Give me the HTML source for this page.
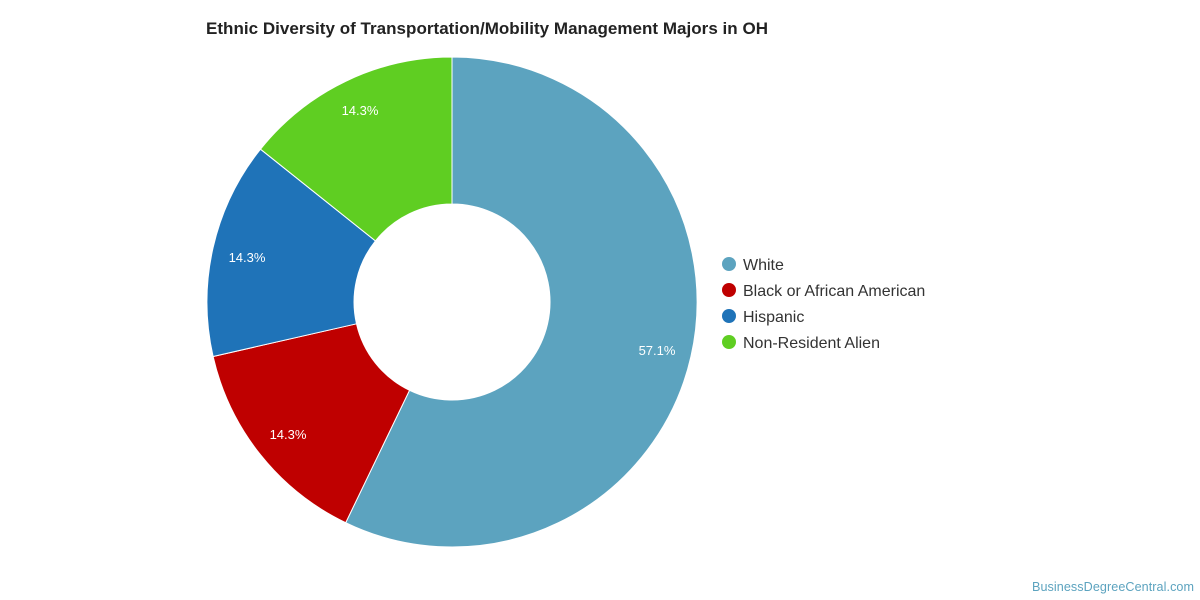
<!DOCTYPE html>
<html><head><meta charset="utf-8"><style>
body{margin:0;background:#fff;}
svg{display:block;font-family:"Liberation Sans",Arial,sans-serif;}
</style></head><body>
<svg width="1200" height="600" viewBox="0 0 1200 600">
<text x="206" y="34" font-size="17" font-weight="bold" fill="#222" textLength="562">Ethnic Diversity of Transportation/Mobility Management Majors in OH</text>
<g stroke="#fff" stroke-width="1">
<path d="M452,57 A245,245 0 1 1 345.7,522.7 L409.5,390.3 A98,98 0 1 0 452,204 Z" fill="#5ca3bf"/>
<path d="M345.7,522.7 A245,245 0 0 1 213.1,356.5 L356.5,323.8 A98,98 0 0 0 409.5,390.3 Z" fill="#bf0000"/>
<path d="M213.1,356.5 A245,245 0 0 1 260.5,149.2 L375.4,240.9 A98,98 0 0 0 356.5,323.8 Z" fill="#1f73b8"/>
<path d="M260.5,149.2 A245,245 0 0 1 452,57 L452,204 A98,98 0 0 0 375.4,240.9 Z" fill="#5fce22"/>
</g>
<g font-size="13" fill="#fff" text-anchor="middle">
<text x="657" y="355">57.1%</text>
<text x="288" y="439">14.3%</text>
<text x="247" y="262">14.3%</text>
<text x="360" y="115">14.3%</text>
</g>
<g font-size="16" fill="#333">
<circle cx="729" cy="264" r="7" fill="#5ca3bf"/><text x="743" y="270">White</text>
<circle cx="729" cy="290" r="7" fill="#bf0000"/><text x="743" y="296">Black or African American</text>
<circle cx="729" cy="316" r="7" fill="#1f73b8"/><text x="743" y="322">Hispanic</text>
<circle cx="729" cy="342" r="7" fill="#5fce22"/><text x="743" y="348">Non-Resident Alien</text>
</g>
<text x="1032" y="591" font-size="12.6" fill="#5ca3bf" textLength="162">BusinessDegreeCentral.com</text>
</svg>
</body></html>
